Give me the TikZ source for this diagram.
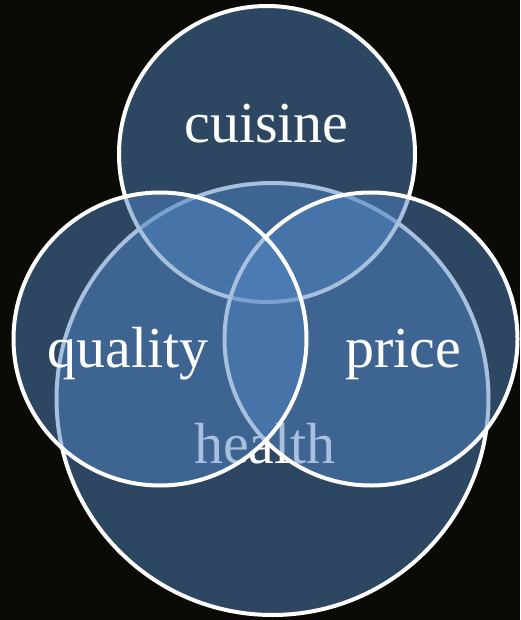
\documentclass[tikz,border=0pt]{standalone}
\usepackage{fontspec}
\setmainfont{Liberation Serif}
\definecolor{night}{RGB}{10,11,7}
\definecolor{setblue}{RGB}{80,131,191}
\begin{document}
\begin{tikzpicture}[x=1pt,y=-1pt,
        set/.style={draw=white,line width=4pt,fill=setblue,fill opacity=0.5},
        setname/.style={text=white,font=\fontsize{58}{60}\selectfont,anchor=base,inner sep=0pt}]
        \fill[night] (0,0) rectangle (520,620);
        \useasboundingbox (0,0) rectangle (520,620);
        % health at the bottom, the other three lie over it
        \draw[set] (272.5,399) circle[radius=216pt];
        \node[setname] (health) at (265,463) {health};
        \draw[set] (267,154) circle[radius=148pt];
        \node[setname] (cuisine) at (266.5,143) {cuisine};
        \draw[set] (371,339) circle[radius=146.5pt];
        \node[setname] (price) at (403.5,367) {price};
        \draw[set] (160,339) circle[radius=146.5pt];
        \node[setname] (quality) at (128,367) {quality};
\end{tikzpicture}
\end{document}
